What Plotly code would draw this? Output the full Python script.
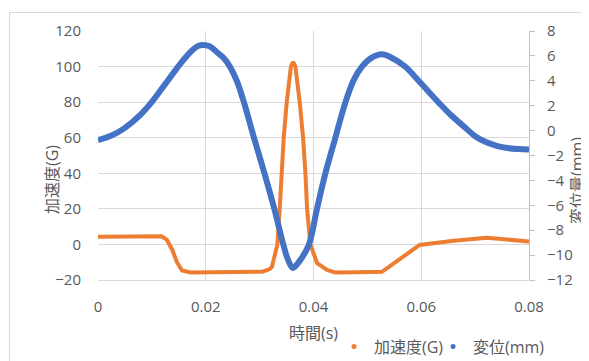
import plotly.graph_objects as go

# Acceleration (G) — left axis
t_acc = [0, 0.004, 0.008, 0.0105, 0.0118, 0.0128, 0.0138, 0.0146, 0.0156, 0.0172,
         0.022, 0.027, 0.0305, 0.0318, 0.0323, 0.0326, 0.0333, 0.03373, 0.0341, 0.03447,
         0.03503, 0.03581, 0.03622, 0.03664, 0.03744, 0.03807, 0.0385, 0.03881, 0.03942,
         0.04067, 0.04252, 0.04406, 0.048, 0.0527, 0.0597, 0.066, 0.0722, 0.0765, 0.08]
acc_g = [4.3, 4.4, 4.6, 4.9, 4.6, 2.5, -3.1, -9.7, -14.7, -15.8,
         -15.6, -15.5, -15.3, -14.0, -12.5, -8.7, 0, 20, 40, 60,
         80, 100, 102.7, 100, 80, 60, 40, 20, 0,
         -10.6, -14.3, -15.8, -15.7, -15.4, -0.3, 2.1, 3.8, 2.5, 1.6]

# Displacement (mm) — right axis
t_disp = [0, 0.0023, 0.0048, 0.0079, 0.0100, 0.0125, 0.0148, 0.0160, 0.0175, 0.0185,
          0.0193, 0.0207, 0.0222, 0.0235, 0.0246, 0.0258, 0.0270, 0.0289, 0.0309,
          0.03275, 0.03442, 0.0352, 0.03618, 0.0372, 0.03911, 0.04063, 0.04221, 0.04406,
          0.04592, 0.0475, 0.0490, 0.0506, 0.0527, 0.0545, 0.05705, 0.0590, 0.0610,
          0.0632, 0.0655, 0.0680, 0.0700, 0.0720, 0.0740, 0.0760, 0.0780, 0.0800]
disp_mm = [-0.76, -0.44, 0.16, 1.28, 2.3, 3.75, 5.1, 5.75, 6.45, 6.78,
           6.88, 6.78, 6.25, 5.75, 5.05, 3.95, 2.4, -0.5, -3.43,
           -6.32, -9.19, -10.3, -11.04, -10.6, -9.19, -6.32, -3.43, -0.57,
           2.27, 4.1, 5.13, 5.8, 6.13, 5.85, 5.13, 4.25, 3.3,
           2.27, 1.25, 0.3, -0.45, -0.92, -1.22, -1.4, -1.48, -1.52]

x_ticks = [0, 0.02, 0.04, 0.06, 0.08]
x_ticklabels = ["0", "0.02", "0.04", "0.06", "0.08"]
y1_ticks = [-20, 0, 20, 40, 60, 80, 100, 120]
y2_ticks = [-12, -10, -8, -6, -4, -2, 0, 2, 4, 6, 8]

ORANGE = "#ED7D31"
BLUE = "#4472C4"
GRID = "#D9D9D9"
TXT = "#595959"
FONT = "Open Sans, Noto Sans CJK JP, sans-serif"


def px(page_x):
    return (page_x - 98) / 431


def py(page_y):
    return (280 - page_y) / 249


fig = go.Figure()
fig.add_trace(go.Scatter(x=t_acc, y=acc_g, mode="lines", line=dict(color=ORANGE, width=4),
                         showlegend=False, yaxis="y"))
fig.add_trace(go.Scatter(x=t_disp, y=disp_mm, mode="lines",
                         line=dict(color=BLUE, width=6, shape="spline", smoothing=1.0),
                         showlegend=False, yaxis="y2"))
# legend entries (marker style like the original)
fig.add_trace(go.Scatter(x=[None], y=[None], mode="markers", name="加速度(G)",
                         marker=dict(color=ORANGE, size=5), legend="legend"))
fig.add_trace(go.Scatter(x=[None], y=[None], mode="markers", name="変位(mm)",
                         marker=dict(color=BLUE, size=5), legend="legend2"))

legend_common = dict(orientation="h", xanchor="left", y=py(346.5), yanchor="middle",
                     font=dict(family=FONT, size=16, color=TXT),
                     bgcolor="rgba(0,0,0,0)", itemwidth=30)

fig.update_layout(
    template="none",
    width=581, height=353,
    margin=dict(l=90, r=60, t=23, b=81, autoexpand=False),
    paper_bgcolor="white", plot_bgcolor="white",
    font=dict(family=FONT, size=15, color=TXT),
    xaxis=dict(range=[0, 0.08], tickvals=x_ticks, ticktext=x_ticklabels,
               showgrid=True, gridcolor=GRID, gridwidth=1, zeroline=False,
               showline=True, linecolor=GRID, linewidth=1, ticks="",
               ticklabelstandoff=13, automargin=False),
    yaxis=dict(range=[-20, 120], tickvals=y1_ticks, showgrid=True, gridcolor=GRID,
               gridwidth=1, zeroline=False, showline=False, ticks="",
               ticklabelstandoff=16, automargin=False),
    yaxis2=dict(range=[-12, 8], tickvals=y2_ticks, overlaying="y", side="right",
                showgrid=False, zeroline=False, showline=True, linecolor="#BFBFBF",
                linewidth=1, ticks="outside", ticklen=5, tickcolor="#BFBFBF",
                ticklabelstandoff=9, automargin=False),
    legend=dict(x=0.5476, **legend_common),
    legend2=dict(x=0.7773, **legend_common),
    shapes=[dict(type="rect", xref="paper", yref="paper",
                 x0=px(9.5), x1=px(620), y0=py(380), y1=py(12.5),
                 line=dict(color=GRID, width=1), layer="below")],
    annotations=[
        dict(text="加速度(G)", xref="paper", yref="paper", x=px(52), y=py(180),
             textangle=-90, showarrow=False, xanchor="center", yanchor="middle",
             font=dict(size=16, color=TXT)),
        dict(text="変位量(mm)", xref="paper", yref="paper", x=px(577), y=py(181),
             textangle=-90, showarrow=False, xanchor="center", yanchor="middle",
             font=dict(size=16, color=TXT)),
        dict(text="時間(s)", xref="paper", yref="paper", x=px(313.5), y=py(333),
             showarrow=False, xanchor="center", yanchor="middle",
             font=dict(size=16, color=TXT)),
    ],
)

fig.write_html("out.html")
